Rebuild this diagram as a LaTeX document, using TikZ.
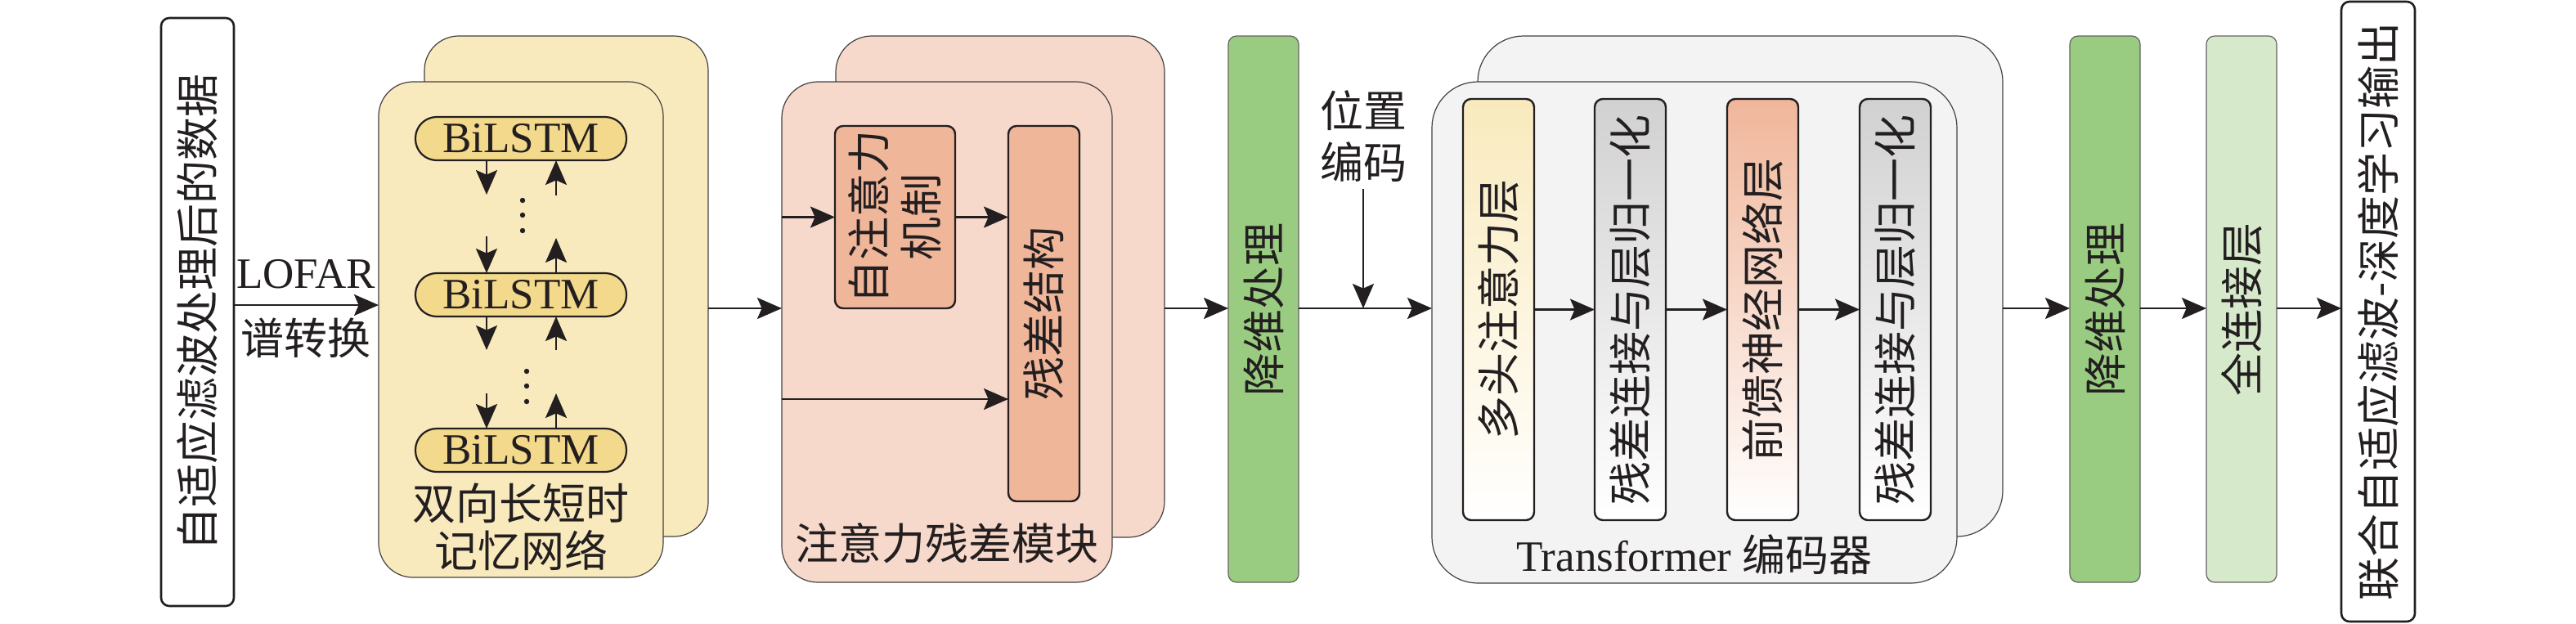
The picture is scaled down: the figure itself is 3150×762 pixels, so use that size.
\documentclass[tikz,border=0pt]{standalone}
\usepackage{fontspec}
\usepackage{graphicx}
\setmainfont{Liberation Serif}
\newfontfamily\cjk{Noto Sans CJK SC}
\usetikzlibrary{arrows.meta,fit}
\definecolor{ybg}{HTML}{F9EABD}
\definecolor{pillc}{HTML}{F3D98B}
\definecolor{pbg}{HTML}{F7D9CB}
\definecolor{salmon}{HTML}{F0B69A}
\definecolor{grn}{HTML}{99CC80}
\definecolor{lgrn}{HTML}{D6E9CA}
\definecolor{gbg}{HTML}{F3F3F3}
\definecolor{gry}{HTML}{D1D1D1}
\definecolor{ink}{HTML}{231F20}
\begin{document}
\begin{tikzpicture}[x=0.5pt,y=-0.5pt,
  every node/.style={inner sep=0pt,outer sep=0pt,text=ink,font=\fontsize{26.5pt}{31pt}\selectfont},
  arr/.style={-{Stealth[length=15pt,width=13pt,inset=2.8pt]},line width=1.1pt,draw=ink},
  cont/.style={draw=ink!85,line width=0.6pt,rounded corners=21pt},
  gcont/.style={draw=ink!85,line width=0.6pt,rounded corners=28pt,fill=gbg},
  endbox/.style={draw=ink,line width=1.3pt,rounded corners=5pt,fill=white},
  pill/.style={draw=ink,line width=1.1pt,rounded corners=13pt,fill=pillc},
  inbox/.style={draw=ink,line width=1.2pt,rounded corners=5pt},
  bar/.style={draw=ink!70,line width=0.6pt,rounded corners=5pt},
  lbl/.style={align=center},
  vt/.style={rotate=90}
]
\useasboundingbox (0,0) rectangle (3150,762);
\coordinate (axis) at (0,377);
\coordinate (lofY) at (0,373);
\coordinate (dx) at (595,0);
\coordinate (ux) at (680,0);

% input
\node[endbox,fit={(197,22) (286,741)}] (in) {};
\node[vt] (intx) at (in.center) {\cjk 自适应滤波处理后的数据};

% BiLSTM block
\node[cont,fill=ybg,fit={(519,44) (866,656)}] (ybk) {};
\node[cont,fill=ybg,fit={(463,100) (811,706)}] (yf) {};
\draw[arr] (in.east |- lofY) -- (yf.west |- lofY);
\node (lofar) at (374,335) {LOFAR};
\node (pzh) at (374,413) {\cjk 谱转换};

\node[pill,fit={(508,143) (766,196)}] (p1) {};
\node[pill,fit={(508,334) (766,387)}] (p2) {};
\node[pill,fit={(508,524) (766,577)}] (p3) {};
\node (p1t) at (p1.center) {BiLSTM};
\node (p2t) at (p2.center) {BiLSTM};
\node (p3t) at (p3.center) {BiLSTM};

\draw[arr] (p1.south -| dx) -- ([yshift=-21pt]p1.south -| dx);
\draw[arr] ([yshift=-21.5pt]p1.south -| ux) -- (p1.south -| ux);
\draw[arr] ([yshift=22.5pt]p2.north -| dx) -- (p2.north -| dx);
\draw[arr] (p2.north -| ux) -- ([yshift=21.5pt]p2.north -| ux);
\draw[arr] (p2.south -| dx) -- ([yshift=-20.5pt]p2.south -| dx);
\draw[arr] ([yshift=-20.5pt]p2.south -| ux) -- (p2.south -| ux);
\draw[arr] ([yshift=21.5pt]p3.north -| dx) -- (p3.north -| dx);
\draw[arr] (p3.north -| ux) -- ([yshift=21.5pt]p3.north -| ux);
\foreach \yy in {245,263,282} \fill[ink] (639,\yy) circle (1.6pt);
\foreach \yy in {454,472,491} \fill[ink] (644,\yy) circle (1.6pt);
\node[lbl,font=\cjk\fontsize{26.5pt}{29pt}\selectfont] (bil) at (637,644) {双向长短时\\记忆网络};

% attention residual block
\node[cont,fill=pbg,rounded corners=22pt,fit={(1022,44) (1424,657)}] (pbk) {};
\node[cont,fill=pbg,rounded corners=22pt,fit={(956,100) (1360,712)}] (pf) {};
\draw[arr] (ybk.east |- axis) -- (pf.west |- axis);
\node[inbox,fill=salmon,fit={(1021,154) (1168,377)}] (sa) {};
\node[vt,lbl,font=\cjk\fontsize{26.5pt}{32pt}\selectfont] (satx) at (sa.center) {自注意力\\机制};
\node[inbox,fill=salmon,fit={(1233,154) (1320,613)}] (rs) {};
\node[vt] (rstx) at (rs.center) {\cjk 残差结构};
\draw[arr] (pf.west |- sa.west) -- (sa.west);
\draw[arr] (sa.east) -- (rs.west |- sa.east);
\coordinate (loY) at (0,488);
\draw[arr] (pf.west |- loY) -- (rs.west |- loY);
\node (arlbl) at (1158,664) {\cjk 注意力残差模块};

% dimension reduction 1
\node[bar,fill=grn,fit={(1502,44) (1588,712)}] (g1) {};
\node[vt] (g1tx) at (g1.center) {\cjk 降维处理};
\draw[arr] (pbk.east |- axis) -- (g1.west |- axis);

% position encoding
\node[lbl,font=\cjk\fontsize{26.5pt}{31.5pt}\selectfont] (pos) at (1667,167) {位置\\编码};

% transformer
\node[gcont,fit={(1807,44) (2449,656)}] (gbk) {};
\node[gcont,fit={(1751,100) (2393,713)}] (gf) {};
\draw[arr] (g1.east |- axis) -- (gf.west |- axis);
\draw[arr] ([yshift=-4pt]pos.south) -- (pos.south |- axis);
\node[inbox,top color=ybg,bottom color=white,fit={(1789,121) (1876,636)}] (ta) {};
\node[inbox,top color=gry,bottom color=white,fit={(1950,121) (2037,636)}] (tb) {};
\node[inbox,top color=salmon,bottom color=white,fit={(2112,121) (2199,636)}] (tc) {};
\node[inbox,top color=gry,bottom color=white,fit={(2274,121) (2361,636)}] (td) {};
\node[vt] (tatx) at (ta.center) {\cjk 多头注意力层};
\node[vt] (tbtx) at (tb.center) {\cjk 残差连接与层归一化};
\node[vt] (tctx) at (tc.center) {\cjk 前馈神经网络层};
\node[vt] (tdtx) at (td.center) {\cjk 残差连接与层归一化};
\draw[arr] (ta.east) -- (tb.west);
\draw[arr] (tb.east) -- (tc.west);
\draw[arr] (tc.east) -- (td.west);
\node (trlbl) at (2072,678) {Transformer {\cjk 编码器}};

% tail
\node[bar,fill=grn,fit={(2531,44) (2617,712)}] (g2) {};
\node[vt] (g2tx) at (g2.center) {\cjk 降维处理};
\node[bar,fill=lgrn,fit={(2698,44) (2784,712)}] (fc) {};
\node[vt] (fctx) at (fc.center) {\cjk 全连接层};
\node[endbox,fit={(2863,2) (2953,760)}] (out) {};
\node[vt] (outtx) at (out.center) {\cjk 联合自适应滤波-深度学习输出};
\draw[arr] (gbk.east |- axis) -- (g2.west |- axis);
\draw[arr] (g2.east |- axis) -- (fc.west |- axis);
\draw[arr] (fc.east |- axis) -- (out.west |- axis);
\end{tikzpicture}
\end{document}
